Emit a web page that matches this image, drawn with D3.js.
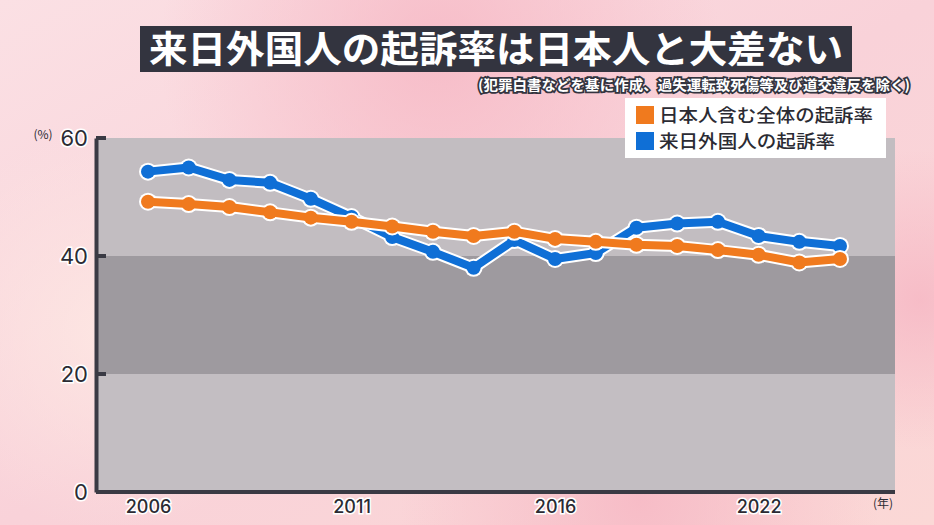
<!DOCTYPE html>
<html>
<head>
<meta charset="utf-8">
<script src="https://cdn.jsdelivr.net/npm/d3@7"></script>
<style>
  body { margin: 0; overflow: hidden; }
  svg { display: block; font-family: "Noto Sans CJK JP", "Noto Sans", sans-serif; }
</style>
</head>
<body>
<div id="chart"></div>
<script>
// data
const years = d3.range(2006, 2024);
const totalRate = [49.2, 48.8, 48.3, 47.4, 46.5, 45.8, 45.0, 44.1, 43.4, 44.1, 42.9, 42.4, 41.9, 41.7, 41.0, 40.2, 38.9, 39.5];
const foreignRate = [54.3, 55.0, 52.9, 52.4, 49.7, 46.6, 43.2, 40.7, 38.0, 42.7, 39.5, 40.5, 44.8, 45.5, 45.8, 43.4, 42.4, 41.7];
const seriesNames = ["日本人含む全体の起訴率", "来日外国人の起訴率"];
const yTicks = [0, 20, 40, 60];
const xTickYears = [2006, 2011, 2016, 2021];
const xTickLabels = ["2006", "2011", "2016", "2022"];

const W = 934, H = 525;
const colors = { total: "#f07a1e", foreign: "#0f6fd6" };

var svg = d3.select("#chart").append("svg")
    .attr("width", W)
    .attr("height", H);

// background
var defs = svg.append("defs");
var bg = defs.append("linearGradient").attr("id", "bg")
    .attr("x1", 0).attr("y1", 0).attr("x2", 1).attr("y2", 1);
bg.append("stop").attr("offset", "0%").attr("stop-color", "#fbe0e4");
bg.append("stop").attr("offset", "50%").attr("stop-color", "#f9d2d9");
bg.append("stop").attr("offset", "100%").attr("stop-color", "#fbd8d6");
var blob = defs.append("radialGradient").attr("id", "blob");
blob.append("stop").attr("offset", "0%").attr("stop-color", "#f6b6c3").attr("stop-opacity", 0.8);
blob.append("stop").attr("offset", "100%").attr("stop-color", "#f6b6c3").attr("stop-opacity", 0);
var blob2 = defs.append("radialGradient").attr("id", "blob2");
blob2.append("stop").attr("offset", "0%").attr("stop-color", "#fde7e3").attr("stop-opacity", 0.9);
blob2.append("stop").attr("offset", "100%").attr("stop-color", "#fde7e3").attr("stop-opacity", 0);

svg.append("rect").attr("width", W).attr("height", H).attr("fill", "url(#bg)");
svg.append("circle").attr("cx", 440).attr("cy", 50).attr("r", 280).attr("fill", "url(#blob)");
svg.append("circle").attr("cx", 110).attr("cy", 330).attr("r", 200).attr("fill", "url(#blob2)");
svg.append("circle").attr("cx", 640).attr("cy", 500).attr("r", 240).attr("fill", "url(#blob)");
svg.append("circle").attr("cx", 920).attr("cy", 300).attr("r", 150).attr("fill", "url(#blob)");

// scales
var x = d3.scaleLinear().domain([2006, 2023]).range([148, 840]);
var y = d3.scaleLinear().domain([0, 60]).range([492, 138]);
var left = 96, right = 895;

// bands
var bandColors = ["#c2bdc1", "#9e9a9f", "#c3bec2"];
var bands = [[40, 60], [20, 40], [0, 20]];
svg.selectAll(".band")
    .data(bands)
  .enter().append("rect")
    .attr("class", "band")
    .attr("x", left)
    .attr("width", right - left)
    .attr("y", d => y(d[1]))
    .attr("height", d => y(d[0]) - y(d[1]))
    .attr("fill", (d, i) => bandColors[i]);

// y axis
var yAxis = d3.axisLeft(y).tickValues(yTicks).tickSize(0).tickPadding(8);
var gy = svg.append("g").attr("transform", "translate(" + left + ",0)").call(yAxis);
gy.select(".domain").attr("stroke", "#3a3a44").attr("stroke-width", 4);
gy.selectAll("text")
    .attr("fill", "#2b2b33")
    .style("font-family", "Inter, 'Noto Sans', sans-serif")
    .style("font-size", "22px")
    .style("paint-order", "stroke")
    .attr("stroke", "#ffffff").attr("stroke-width", 3);
svg.selectAll(".ytick")
    .data(yTicks.filter(d => d > 0))
  .enter().append("line")
    .attr("x1", left).attr("x2", left + 10)
    .attr("y1", d => y(d)).attr("y2", d => y(d))
    .attr("stroke", "#3a3a44").attr("stroke-width", 4);

svg.append("text")
    .attr("x", 43).attr("y", 139)
    .attr("text-anchor", "middle")
    .attr("fill", "#2b2b33")
    .style("font-size", "12px")
    .text("(%)");

// x axis
var xAxis = d3.axisBottom(x).tickValues(xTickYears).tickSize(0).tickPadding(8)
    .tickFormat((d, i) => xTickLabels[i]);
var gx = svg.append("g").attr("transform", "translate(0," + y(0) + ")").call(xAxis);
gx.select(".domain").attr("d", "M" + left + ",0H" + right).attr("stroke", "#3a3a44").attr("stroke-width", 4);
gx.selectAll("text")
    .attr("fill", "#2b2b33")
    .style("font-family", "Inter, 'Noto Sans', sans-serif")
    .style("font-size", "18px")
    .style("font-weight", "500")
    .style("paint-order", "stroke")
    .attr("stroke", "#ffffff").attr("stroke-width", 3);

svg.append("text")
    .attr("x", 883).attr("y", 508)
    .attr("text-anchor", "middle")
    .attr("fill", "#2b2b33")
    .style("font-size", "12px")
    .text("(年)");

// lines
var line = d3.line().x((d, i) => x(years[i])).y(d => y(d));

function drawSeries(values, color) {
    var g = svg.append("g");
    g.append("path").datum(values)
        .attr("d", line).attr("fill", "none")
        .attr("stroke", "#ffffff").attr("stroke-width", 12).attr("stroke-linejoin", "round");
    g.selectAll(".halo").data(values).enter().append("circle")
        .attr("cx", (d, i) => x(years[i])).attr("cy", d => y(d))
        .attr("r", 9).attr("fill", "#ffffff");
    g.append("path").datum(values)
        .attr("d", line).attr("fill", "none")
        .attr("stroke", color).attr("stroke-width", 8).attr("stroke-linejoin", "round");
    g.selectAll(".dot").data(values).enter().append("circle")
        .attr("cx", (d, i) => x(years[i])).attr("cy", d => y(d))
        .attr("r", 7).attr("fill", color);
}
drawSeries(foreignRate, colors.foreign);
drawSeries(totalRate, colors.total);

// title
svg.append("rect")
    .attr("x", 140).attr("y", 26).attr("width", 712).attr("height", 46)
    .attr("fill", "#33343f");
svg.append("text")
    .attr("x", 496).attr("y", 63)
    .attr("text-anchor", "middle")
    .attr("fill", "#ffffff")
    .attr("textLength", 694)
    .attr("lengthAdjust", "spacingAndGlyphs")
    .style("font-size", "37px")
    .style("font-weight", "bold")
    .text("来日外国人の起訴率は日本人と大差ない");

svg.append("text")
    .attr("x", 910).attr("y", 90)
    .attr("text-anchor", "end")
    .attr("fill", "#ffffff")
    .attr("stroke", "#33343f").attr("stroke-width", 3.5)
    .attr("textLength", 432)
    .attr("lengthAdjust", "spacingAndGlyphs")
    .style("paint-order", "stroke")
    .style("font-size", "14px")
    .style("font-weight", "bold")
    .text("(犯罪白書などを基に作成、過失運転致死傷等及び道交違反を除く)");

// legend
var legend = svg.append("g").attr("transform", "translate(625,98)");
legend.append("rect").attr("width", 261).attr("height", 60).attr("fill", "#ffffff");
var li = legend.selectAll(".item")
    .data(seriesNames)
  .enter().append("g")
    .attr("transform", (d, i) => "translate(11," + (8 + i * 26) + ")");
li.append("rect").attr("width", 18).attr("height", 18)
    .attr("fill", (d, i) => i === 0 ? colors.total : colors.foreign);
li.append("text")
    .attr("x", 23).attr("y", 16)
    .attr("fill", "#2b2b33")
    .attr("textLength", (d, i) => i === 0 ? 214 : 176)
    .attr("lengthAdjust", "spacingAndGlyphs")
    .style("font-size", "18px")
    .style("font-weight", "500")
    .text(d => d);
</script>
</body>
</html>
